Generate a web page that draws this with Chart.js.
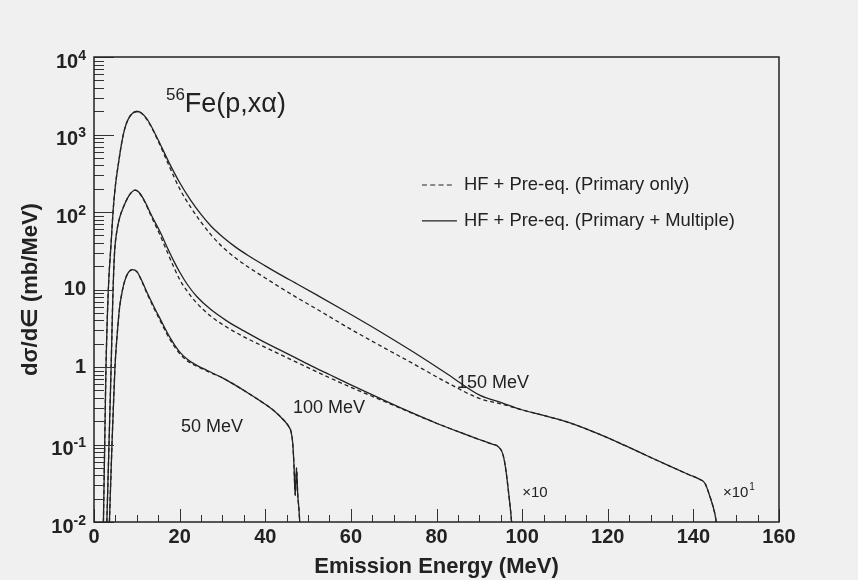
<!DOCTYPE html>
<html>
<head>
<meta charset="utf-8">
<title>56Fe(p,xα) alpha emission spectra</title>
<script src="https://cdn.jsdelivr.net/npm/chart.js@4.4.1/dist/chart.umd.min.js"></script>
<style>
  html, body { margin: 0; padding: 0; background: #fff; }
  #wrap { width: 858px; height: 585px; }
</style>
</head>
<body>
<div id="wrap"><canvas id="spectra" width="858" height="585"></canvas></div>
<script>
// alpha emission spectra, dσ/dε in mb/MeV vs emission energy in MeV
// 150 MeV curves are scaled x100, 100 MeV curves x10

const energy150 = [2.2, 2.5, 2.8, 3.35, 4.0, 4.5, 5.0, 5.7, 6.5, 7.2, 8.0, 9.0, 10.0, 11.0, 12.5, 15.0, 17.5, 20, 22.6, 25, 27.3, 30, 33, 36, 40, 43.4, 47, 52, 59, 66, 74.6, 82, 90.2, 95, 99.5, 105, 111.2, 117, 122.9, 128, 134.5, 139, 141.5, 142.7, 143.9, 145, 145.8];
const multiple150 = [0.01, 0.1, 1, 10, 40, 110, 220, 420, 800, 1200, 1580, 1880, 1980, 1905, 1550, 850, 437, 240, 141, 93, 66, 48, 35.5, 27.5, 20.2, 15.7, 12.16, 8.51, 5.13, 3.05, 1.56, 0.85, 0.43, 0.35, 0.285, 0.237, 0.19, 0.143, 0.1035, 0.0767, 0.0525, 0.0407, 0.0355, 0.0316, 0.021, 0.0129, 0.007];
const primary150 = [0.01, 0.1, 1, 10, 40, 110, 220, 420, 800, 1200, 1580, 1880, 1980, 1895, 1520, 822, 398, 200, 115, 74, 51, 35.5, 25.7, 19.5, 14.1, 10.7, 8.1, 5.6, 3.3, 2.0, 1.1, 0.65, 0.39, 0.335, 0.285, 0.237, 0.19, 0.143, 0.1035, 0.0767, 0.0525, 0.0407, 0.0355, 0.0316, 0.021, 0.0129, 0.007];

const energy100 = [3.0, 3.5, 4.0, 4.4, 4.8, 5.3, 6.0, 7.0, 7.8, 8.7, 9.6, 10.5, 11.7, 13.5, 15.6, 17, 18.7, 20, 21.8, 24, 27.3, 31, 35, 39, 43.4, 47, 51, 55.1, 60, 66.8, 73, 80, 86, 90, 93, 94.5, 95.5, 96.2, 96.8, 97.3, 97.8];
const multiple100 = [0.01, 0.1, 1, 8, 30, 55, 85, 120, 150, 178, 192, 180, 143, 89, 53.1, 35.9, 22.9, 16.8, 11.6, 8.13, 5.5, 3.94, 2.92, 2.21, 1.66, 1.32, 1.02, 0.794, 0.589, 0.394, 0.275, 0.188, 0.14, 0.116, 0.101, 0.093, 0.075, 0.047, 0.025, 0.014, 0.007];
const primary100 = [0.01, 0.1, 1, 8, 30, 55, 85, 120, 150, 178, 192, 178, 140, 85, 47.9, 31.6, 19.1, 13.5, 9.44, 6.68, 4.52, 3.27, 2.45, 1.91, 1.46, 1.175, 0.923, 0.724, 0.547, 0.38, 0.272, 0.188, 0.14, 0.116, 0.101, 0.093, 0.075, 0.047, 0.025, 0.014, 0.007];

const energy50 = [3.6, 4.2, 4.9, 5.5, 6.0, 6.6, 7.2, 8.0, 9.0, 10.0, 11.2, 12.45, 14, 15.6, 17, 17.9, 19, 20.25, 21.8, 23.4, 25.3, 27.3, 30, 32.7, 35.8, 38.9, 41.7, 44.4, 45.4, 46.0, 46.4, 46.7, 47.0, 47.3, 47.6, 47.9, 48.2];
const multiple50 = [0.01, 0.1, 1, 3.0, 6.0, 9.5, 13, 16.5, 18, 17, 12.9, 9.0, 6.0, 4.03, 2.85, 2.32, 1.86, 1.51, 1.26, 1.096, 0.966, 0.855, 0.724, 0.596, 0.468, 0.363, 0.282, 0.204, 0.174, 0.148, 0.107, 0.056, 0.022, 0.05, 0.022, 0.014, 0.007];
const primary50 = [0.01, 0.1, 1, 3.0, 6.0, 9.5, 13, 16.5, 18, 17, 12.6, 8.7, 5.75, 3.82, 2.69, 2.19, 1.76, 1.44, 1.2, 1.06, 0.944, 0.841, 0.724, 0.596, 0.468, 0.363, 0.282, 0.204, 0.174, 0.148, 0.107, 0.056, 0.022, 0.05, 0.022, 0.014, 0.007];

const xTickValues = [0, 20, 40, 60, 80, 100, 120, 140, 160];
const yTickValues = [0.01, 0.1, 1, 10, 100, 1000, 10000];
const yTickLabels = ['10^-2', '10^-1', '1', '10', '10^2', '10^3', '10^4'];
const legendLabels = ['HF + Pre-eq. (Primary only)', 'HF + Pre-eq. (Primary + Multiple)'];

// curve labels, placed in data coordinates (MeV, mb/MeV)
const curveLabels = [
  { text: '150 MeV', x: 84.8, y: 0.62 },
  { text: '100 MeV', x: 46.5, y: 0.296 },
  { text: '50 MeV', x: 20.3, y: 0.168 }
];
const scaleNotes = [
  { text: '×10', sup: '', x: 100, y: 0.0237 },
  { text: '×10', sup: '1', x: 146.9, y: 0.0237 }
];

const INK = '#222';
const FONT = '"Liberation Sans", Arial, "DejaVu Sans", sans-serif';

function toPoints(xs, ys) {
  return xs.map((x, i) => ({ x: x, y: ys[i] }));
}

function curve(xs, ys, dashed) {
  return {
    data: toPoints(xs, ys),
    borderColor: INK,
    borderWidth: 1.3,
    borderDash: dashed ? [4, 3] : [],
    pointRadius: 0,
    fill: false,
    cubicInterpolationMode: 'monotone',
    clip: { left: 0, top: 0, right: 0, bottom: 0 }
  };
}

// draws "base^exp", right-aligned at x, base centred on y
function drawPower(ctx, label, x, y) {
  const parts = label.split('^');
  const base = parts[0];
  const exp = parts[1] || '';
  ctx.textBaseline = 'middle';
  ctx.textAlign = 'left';
  ctx.font = 'bold 14px ' + FONT;
  const ew = exp ? ctx.measureText(exp).width : 0;
  ctx.font = 'bold 20px ' + FONT;
  const bw = ctx.measureText(base).width;
  const shift = exp ? 5 : 0;
  ctx.fillText(base, x - ew - bw, y + shift);
  if (exp) {
    ctx.font = 'bold 14px ' + FONT;
    ctx.fillText(exp, x - ew, y - 1);
  }
}

const rootAxes = {
  id: 'rootAxes',
  beforeDraw(chart) {
    const ctx = chart.ctx;
    ctx.save();
    ctx.fillStyle = '#eff0ef';
    ctx.fillRect(0, 0, chart.width, chart.height - 5);
    ctx.restore();
  },
  afterDatasetsDraw(chart) {
    const { ctx, chartArea: a, scales } = chart;
    const xs = scales.x, ys = scales.y;
    ctx.save();

    // ticks point into the frame
    ctx.strokeStyle = '#333';
    ctx.lineWidth = 1;
    ctx.beginPath();
    for (let d = -2; d <= 4; d++) {
      const py = Math.round(ys.getPixelForValue(Math.pow(10, d))) + 0.5;
      ctx.moveTo(a.left, py);
      ctx.lineTo(a.left + 20, py);
      if (d === 4) continue;
      for (let k = 2; k <= 9; k++) {
        const pm = Math.round(ys.getPixelForValue(k * Math.pow(10, d))) + 0.5;
        ctx.moveTo(a.left, pm);
        ctx.lineTo(a.left + 10, pm);
      }
    }
    for (let e = 0; e <= 160; e += 5) {
      const px = Math.round(xs.getPixelForValue(e)) + 0.5;
      const len = e % 20 === 0 ? 13 : 7;
      ctx.moveTo(px, a.bottom);
      ctx.lineTo(px, a.bottom - len);
    }
    ctx.stroke();

    // frame
    ctx.strokeStyle = INK;
    ctx.lineWidth = 1.5;
    ctx.strokeRect(a.left, a.top, a.right - a.left, a.bottom - a.top);

    // tick labels
    ctx.fillStyle = INK;
    ctx.font = 'bold 20px ' + FONT;
    ctx.textAlign = 'center';
    ctx.textBaseline = 'middle';
    xTickValues.forEach(v => {
      ctx.fillText(String(v), xs.getPixelForValue(v), a.bottom + 15);
    });
    yTickValues.forEach((v, i) => {
      drawPower(ctx, yTickLabels[i], a.left - 8, ys.getPixelForValue(v));
    });

    // axis titles
    ctx.font = 'bold 22px ' + FONT;
    ctx.textAlign = 'center';
    ctx.textBaseline = 'middle';
    ctx.fillText('Emission Energy (MeV)', (a.left + a.right) / 2, a.bottom + 45);
    ctx.save();
    ctx.translate(31, (a.top + a.bottom) / 2);
    ctx.rotate(-Math.PI / 2);
    ctx.fillText('dσ/d∈ (mb/MeV)', 0, 0);
    ctx.restore();

    // reaction title
    const tx = xs.getPixelForValue(16.8);
    const ty = ys.getPixelForValue(1950);
    ctx.textAlign = 'left';
    ctx.textBaseline = 'alphabetic';
    ctx.font = '17px ' + FONT;
    ctx.fillText('56', tx, ty - 12);
    const sw = ctx.measureText('56').width;
    ctx.font = '27px ' + FONT;
    ctx.fillText('Fe(p,xα)', tx + sw, ty);

    // curve labels
    ctx.textBaseline = 'middle';
    ctx.font = '18px ' + FONT;
    curveLabels.forEach(l => {
      ctx.fillText(l.text, xs.getPixelForValue(l.x), ys.getPixelForValue(l.y));
    });
    scaleNotes.forEach(n => {
      const nx = xs.getPixelForValue(n.x);
      const ny = ys.getPixelForValue(n.y);
      ctx.font = '15px ' + FONT;
      ctx.fillText(n.text, nx, ny);
      if (n.sup) {
        const w = ctx.measureText(n.text).width;
        ctx.font = '10px ' + FONT;
        ctx.fillText(n.sup, nx + w + 1, ny - 6);
      }
    });

    // legend
    const lx = xs.getPixelForValue(76.6);
    const rows = [ys.getPixelForValue(223), ys.getPixelForValue(76.6)];
    ctx.lineWidth = 1.2;
    ctx.strokeStyle = INK;
    rows.forEach((ry, i) => {
      ctx.beginPath();
      ctx.setLineDash(i === 0 ? [5, 3.3] : []);
      ctx.moveTo(lx, ry);
      ctx.lineTo(lx + (i === 0 ? 32 : 35), ry);
      ctx.stroke();
      ctx.setLineDash([]);
      ctx.font = '18.4px ' + FONT;
      ctx.fillText(legendLabels[i], lx + 42, ry);
    });

    ctx.restore();
  }
};

new Chart(document.getElementById('spectra').getContext('2d'), {
  type: 'line',
  data: {
    datasets: [
      curve(energy150, multiple150, false),
      curve(energy100, multiple100, false),
      curve(energy50, multiple50, false),
      curve(energy150, primary150, true),
      curve(energy100, primary100, true),
      curve(energy50, primary50, true)
    ]
  },
  options: {
    responsive: false,
    animation: false,
    devicePixelRatio: 1,
    layout: { padding: { left: 94, right: 79, top: 57, bottom: 63 } },
    scales: {
      x: { type: 'linear', min: 0, max: 160, display: false },
      y: { type: 'logarithmic', min: 0.01, max: 10000, display: false }
    },
    plugins: {
      legend: { display: false },
      tooltip: { enabled: false }
    }
  },
  plugins: [rootAxes]
});
</script>
</body>
</html>
